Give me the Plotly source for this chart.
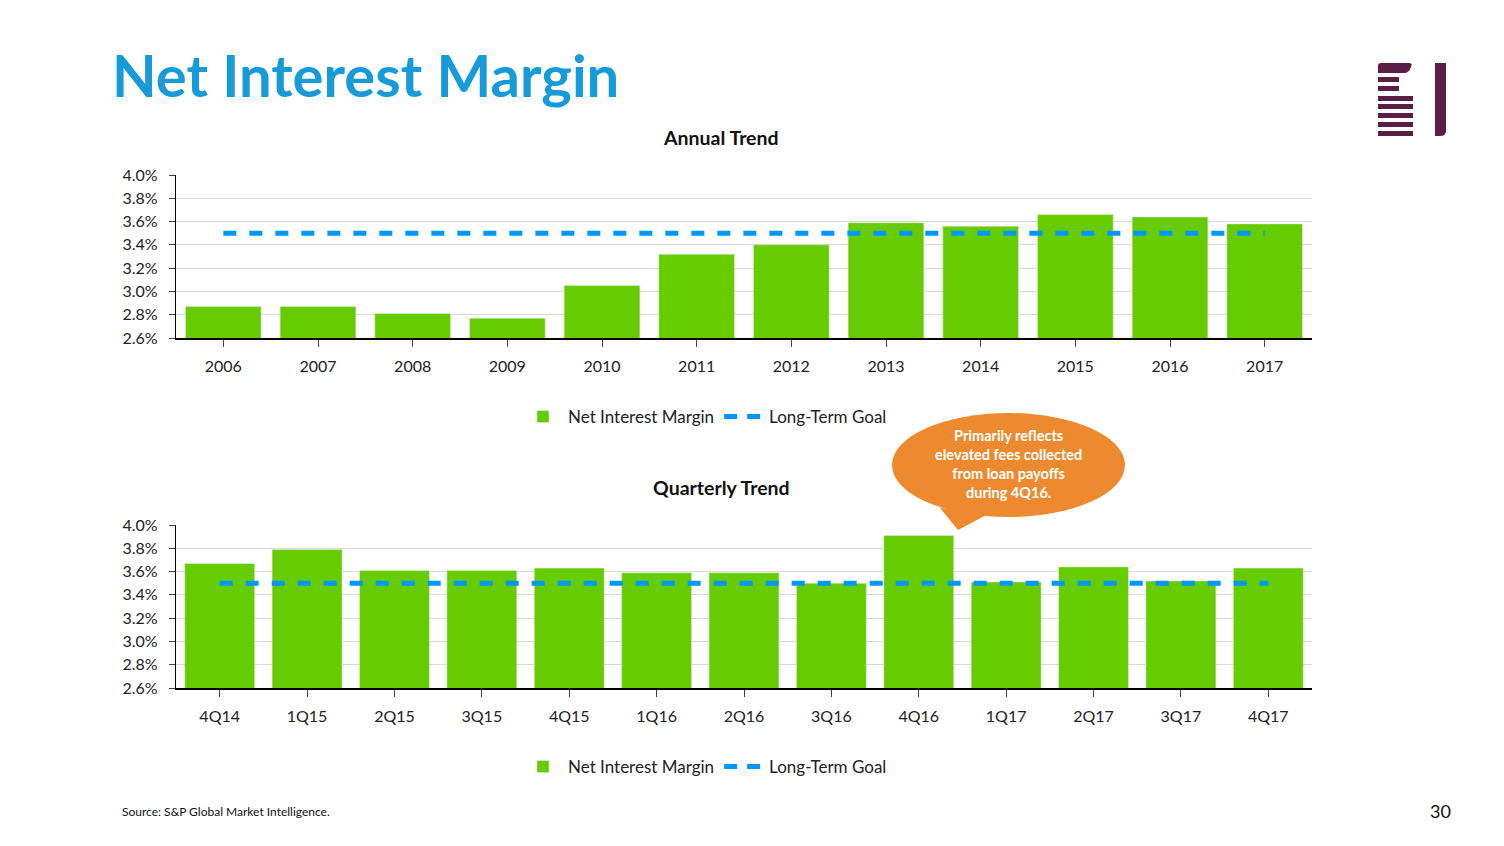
import plotly.graph_objects as go

W, H = 1504, 846

years = ["2006", "2007", "2008", "2009", "2010", "2011", "2012", "2013", "2014", "2015", "2016", "2017"]
annual_nim = [2.87, 2.87, 2.81, 2.77, 3.05, 3.32, 3.40, 3.59, 3.56, 3.66, 3.64, 3.58]
annual_goal = [3.50] * len(years)

quarters = ["4Q14", "1Q15", "2Q15", "3Q15", "4Q15", "1Q16", "2Q16", "3Q16", "4Q16", "1Q17", "2Q17", "3Q17", "4Q17"]
quarterly_nim = [3.67, 3.79, 3.61, 3.61, 3.63, 3.59, 3.59, 3.50, 3.91, 3.51, 3.64, 3.52, 3.63]
quarterly_goal = [3.50] * len(quarters)

y_ticks = [2.6, 2.8, 3.0, 3.2, 3.4, 3.6, 3.8, 4.0]

GREEN = "#66CC00"
BLUE = "#0096FF"
FONT = "Lato"
OFF = 8  # page body margin offset


def px(x):
    return (x - OFF) / W


def py(y):
    return 1 - (y - OFF) / H


fig = go.Figure()

for xs, ys, goal, xa, ya, lg in [(years, annual_nim, annual_goal, "x", "y", "legend"),
                                 (quarters, quarterly_nim, quarterly_goal, "x2", "y2", "legend2")]:
    fig.add_trace(go.Bar(x=xs, y=ys, name="Net Interest Margin", marker_color=GREEN,
                         xaxis=xa, yaxis=ya, legend=lg))
    fig.add_trace(go.Scatter(x=xs, y=goal, name="Long-Term Goal", mode="lines",
                             line=dict(color=BLUE, width=5, dash="13px,13px"),
                             xaxis=xa, yaxis=ya, showlegend=False))
    # legend-only entry with a dash pattern that reads well in the small legend symbol
    fig.add_trace(go.Scatter(x=[None], y=[None], name="Long-Term Goal", mode="lines",
                             line=dict(color=BLUE, width=5, dash="13px,10px"),
                             xaxis=xa, yaxis=ya, legend=lg))

xcommon = dict(showline=True, linecolor="black", linewidth=1.5, ticks="outside", ticklen=7,
               tickcolor="#444", tickfont=dict(size=16, color="#222", family=FONT),
               showgrid=False, ticklabelstandoff=6, automargin=False)
ycommon = dict(range=[2.6, 4.0], tickvals=y_ticks, ticktext=[f"{v:.1f}%" for v in y_ticks],
               showline=True, linecolor="black", linewidth=1.2, ticks="outside", ticklen=6,
               tickcolor="#444", tickfont=dict(size=16, color="#222", family=FONT),
               showgrid=True, gridcolor="#D9D9D9", gridwidth=1, zeroline=False,
               ticklabelstandoff=8, automargin=False)

legcommon = dict(orientation="h", xanchor="left", yanchor="middle",
                 font=dict(size=17, color="#222", family=FONT), bgcolor="rgba(0,0,0,0)",
                 itemwidth=40, traceorder="normal")

fig.update_layout(
    width=W, height=H,
    margin=dict(l=0, r=0, t=0, b=0, autoexpand=False),
    paper_bgcolor="white", plot_bgcolor="white",
    font=dict(family=FONT, color="#222"),
    bargap=0.2,
    xaxis=dict(domain=[px(176), px(1312)], anchor="y", **xcommon),
    yaxis=dict(domain=[py(338), py(175)], anchor="x", **ycommon),
    xaxis2=dict(domain=[px(176), px(1312)], anchor="y2", **xcommon),
    yaxis2=dict(domain=[py(688), py(525)], anchor="x2", **ycommon),
    legend=dict(x=px(518), y=py(417), **legcommon),
    legend2=dict(x=px(518), y=py(767), **legcommon),
)

annotations = [
    dict(text="<b>Net Interest Margin</b>", x=px(110), y=py(74), xanchor="left", yanchor="middle",
         font=dict(size=58, color="#169BD8", family=FONT)),
    dict(text="<b>Annual Trend</b>", x=px(721), y=py(137), xanchor="center", yanchor="middle",
         font=dict(size=19.5, color="#111", family=FONT)),
    dict(text="<b>Quarterly Trend</b>", x=px(721), y=py(487), xanchor="center", yanchor="middle",
         font=dict(size=19.5, color="#111", family=FONT)),
    dict(text="Source: S&P Global Market Intelligence.", x=px(120), y=py(811), xanchor="left",
         yanchor="middle", font=dict(size=12, color="#111", family=FONT)),
    dict(text="30", x=px(1453), y=py(811), xanchor="right", yanchor="middle",
         font=dict(size=18, color="#111", family=FONT)),
    dict(text="<b>Primarily reflects<br>elevated fees collected<br>from loan payoffs<br>during 4Q16.</b>",
         x=px(1008), y=py(464), xanchor="center", yanchor="middle", align="center",
         font=dict(size=14.5, color="white", family=FONT)),
]
for a in annotations:
    a.update(xref="paper", yref="paper", showarrow=False)
fig.update_layout(annotations=annotations)

MAROON = "#5B1F47"
shapes = []
# callout bubble
shapes.append(dict(type="path", xref="paper", yref="paper",
                   path=f"M {px(940)} {py(508)} L {px(958)} {py(530)} L {px(990)} {py(513)} Z",
                   fillcolor="#ED8A2F", line=dict(width=0)))
shapes.append(dict(type="circle", xref="paper", yref="paper",
                   x0=px(892), x1=px(1125), y0=py(517), y1=py(413),
                   fillcolor="#ED8A2F", line=dict(width=0)))
# logo
shapes.append(dict(type="path", xref="paper", yref="paper",
                   path=(f"M {px(1378)} {py(73)} L {px(1378)} {py(66)} Q {px(1378)} {py(63)} {px(1381)} {py(63)} "
                         f"L {px(1409)} {py(63)} Q {px(1413)} {py(63)} {px(1411)} {py(67)} "
                         f"Q {px(1409)} {py(73)} {px(1404)} {py(73)} Z"),
                   fillcolor=MAROON, line=dict(width=0)))
for (y0, y1, x1) in [(77, 82, 1399), (86, 91, 1399), (96, 101, 1413), (104, 109, 1413),
                     (113, 118, 1413), (122, 127, 1413), (131, 136, 1413)]:
    shapes.append(dict(type="rect", xref="paper", yref="paper", x0=px(1378), x1=px(x1),
                       y0=py(y1), y1=py(y0), fillcolor=MAROON, line=dict(width=0)))
shapes.append(dict(type="path", xref="paper", yref="paper",
                   path=(f"M {px(1435)} {py(63)} L {px(1446)} {py(63)} L {px(1446)} {py(131)} "
                         f"Q {px(1446)} {py(136)} {px(1440)} {py(136)} L {px(1435)} {py(136)} Z"),
                   fillcolor=MAROON, line=dict(width=0)))
fig.update_layout(shapes=shapes)

fig.write_html("out.html")
